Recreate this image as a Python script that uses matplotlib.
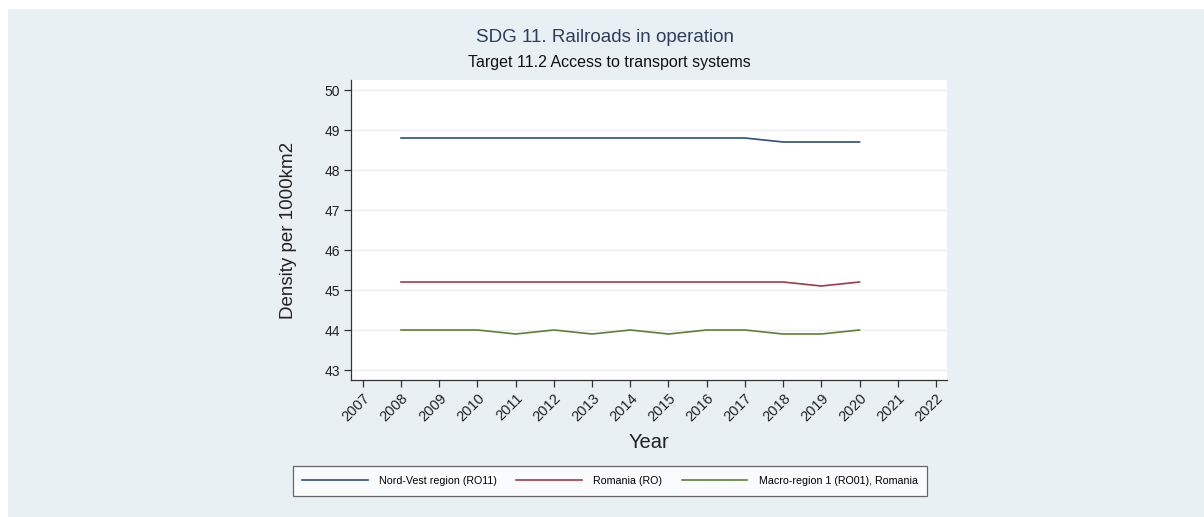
import matplotlib.pyplot as plt
from matplotlib.patches import Rectangle

plt.rcParams["font.family"] = ["Liberation Sans", "DejaVu Sans"]

years = [2008, 2009, 2010, 2011, 2012, 2013, 2014, 2015, 2016, 2017, 2018, 2019, 2020]
nord_vest = [48.8, 48.8, 48.8, 48.8, 48.8, 48.8, 48.8, 48.8, 48.8, 48.8, 48.7, 48.7, 48.7]
romania = [45.2, 45.2, 45.2, 45.2, 45.2, 45.2, 45.2, 45.2, 45.2, 45.2, 45.2, 45.1, 45.2]
macro_region = [44.0, 44.0, 44.0, 43.9, 44.0, 43.9, 44.0, 43.9, 44.0, 44.0, 43.9, 43.9, 44.0]

series_labels = ["Nord-Vest region (RO11)", "Romania (RO)", "Macro-region 1 (RO01), Romania"]
x_ticks = list(range(2007, 2023))
y_ticks = [43, 44, 45, 46, 47, 48, 49, 50]

BG = "#e8f0f3"
COLORS = ["#2b4f7e", "#a23a47", "#5e7f36"]

fig = plt.figure(figsize=(12.04, 5.17), dpi=100)
fig.patch.set_facecolor("white")
fig.patches.append(Rectangle((8 / 1204, 0), 1, 1 - 9 / 517,
                             transform=fig.transFigure, facecolor=BG,
                             edgecolor="none", zorder=-10))

ax = fig.add_axes([351 / 1204, 1 - 380 / 517, 596 / 1204, 300 / 517])
ax.set_facecolor("white")

for vals, lab, col in zip([nord_vest, romania, macro_region], series_labels, COLORS):
    ax.plot(years, vals, color=col, lw=1.2, label=lab)

ax.set_xlim(2006.69, 2022.29)
ax.set_ylim(42.75, 50.25)
ax.set_xticks(x_ticks)
ax.set_xticklabels([str(y) for y in x_ticks], rotation=45, ha="right",
                   rotation_mode="anchor", fontsize=10.5)
ax.set_yticks(y_ticks)
ax.set_yticklabels([str(y) for y in y_ticks], fontsize=10)
ax.tick_params(axis="both", direction="out", length=5, width=0.9, color="#333333",
               labelcolor="#222222")
ax.tick_params(axis="y", pad=3)
ax.tick_params(axis="x", pad=3)

ax.grid(axis="y", color="#eaeeef", lw=1.0)
ax.set_axisbelow(True)
for s in ["top", "right"]:
    ax.spines[s].set_visible(False)
for s in ["left", "bottom"]:
    ax.spines[s].set_color("#333333")
    ax.spines[s].set_linewidth(0.9)

ax.set_ylabel("Density per 1000km2", fontsize=13.5, color="#222222", labelpad=20)
fig.text(649 / 1204, 1 - 443 / 517, "Year", fontsize=14.5, color="#222222",
         ha="center", va="center")

fig.text(605 / 1204, 1 - 37 / 517, "SDG 11. Railroads in operation",
         fontsize=13.5, color="#2d3e5e", ha="center", va="center")
fig.text(609 / 1204, 1 - 62 / 517, "Target 11.2 Access to transport systems",
         fontsize=11.5, color="#111111", ha="center", va="center")

leg = fig.legend(loc="center", bbox_to_anchor=(610 / 1204, 1 - 481 / 517),
                 ncol=3, fontsize=7.7, frameon=True, fancybox=False,
                 handlelength=6.1, handletextpad=1.1, borderaxespad=0,
                 columnspacing=1.8, borderpad=0.9)
leg.get_frame().set_edgecolor("#444444")
leg.get_frame().set_linewidth(0.9)
leg.get_frame().set_facecolor("white")

fig.savefig("out.png", dpi=100)
